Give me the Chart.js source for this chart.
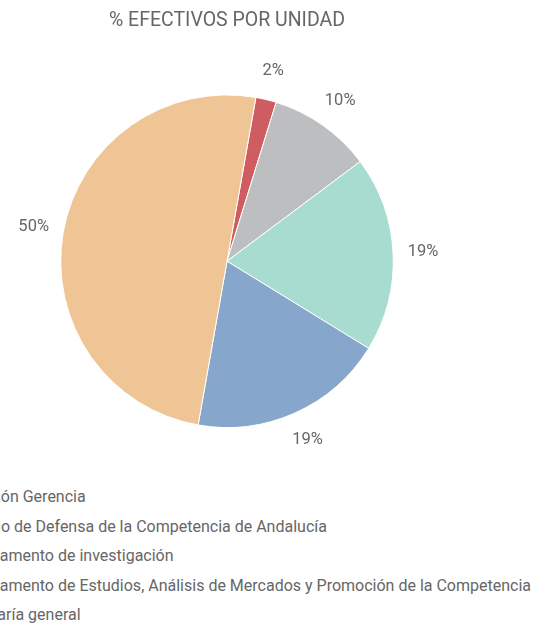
<!DOCTYPE html>
<html>
<head>
<meta charset="utf-8">
<script src="https://cdn.jsdelivr.net/npm/chart.js@4.4.1/dist/chart.umd.min.js"></script>
<style>
    html, body { margin: 0; padding: 0; background: #ffffff; overflow: hidden; }
    body { width: 534px; height: 623px; position: relative; font-family: Roboto, sans-serif; }
    #contenedor { position: absolute; left: 0; top: 0; width: 534px; height: 480px; }
    #leyenda { position: absolute; left: -71px; top: 482px; margin: 0; padding: 0; list-style: none; white-space: nowrap; }
    #leyenda li { height: 29.5px; line-height: 29.5px; font-size: 16px; color: #666666; }
    #leyenda span.caja { display: inline-block; width: 15px; height: 15px; margin-right: 8px; vertical-align: -2px; }
</style>
</head>
<body>
<div id="contenedor"><canvas id="graficoPastel"></canvas></div>
<ul id="leyenda"></ul>
<script>
const unidades = [
    'Dirección Gerencia',
    'Consejo de Defensa de la Competencia de Andalucía',
    'Departamento de investigación',
    'Departamento de Estudios, Análisis de Mercados y Promoción de la Competencia',
    'Secretaría general'
];
const porcentajes = [2, 10, 19, 19, 50];
const colores = ['#cf5c61', '#bdbec0', '#a8dcd1', '#86a7cb', '#f0c596'];

// etiquetas de porcentaje fuera del pastel
const etiquetasExternas = {
    id: 'etiquetasExternas',
    afterDatasetsDraw(chart) {
        const ctx = chart.ctx;
        const meta = chart.getDatasetMeta(0);
        ctx.save();
        ctx.font = '16.5px Roboto, sans-serif';
        ctx.fillStyle = '#666666';
        ctx.textAlign = 'center';
        ctx.textBaseline = 'middle';
        meta.data.forEach((arco, i) => {
            const { x, y, startAngle, endAngle, outerRadius } = arco.getProps(['x', 'y', 'startAngle', 'endAngle', 'outerRadius'], true);
            const medio = (startAngle + endAngle) / 2;
            const r = outerRadius + 30;
            ctx.fillText(`${porcentajes[i]}%`, x + Math.cos(medio) * r, y + Math.sin(medio) * r);
        });
        ctx.restore();
    }
};

const ctxPastel = document.getElementById('graficoPastel').getContext('2d');
const graficoPastel = new Chart(ctxPastel, {
    type: 'pie',
    data: {
        labels: unidades,
        datasets: [{
            data: porcentajes,
            backgroundColor: colores,
            borderColor: '#ffffff',
            borderWidth: 1
        }]
    },
    options: {
        responsive: true,
        maintainAspectRatio: false,
        animation: false,
        rotation: 10,
        layout: {
            padding: { left: 0, right: 80, top: 0, bottom: 52 }
        },
        plugins: {
            legend: { display: false },
            tooltip: { enabled: false },
            title: {
                display: true,
                text: '% EFECTIVOS POR UNIDAD',
                color: '#666666',
                font: { family: 'Roboto, sans-serif', size: 19.5, weight: 'normal' },
                padding: { top: 9.5, bottom: 61.5 }
            }
        }
    },
    plugins: [etiquetasExternas]
});

// leyenda en html
const leyenda = document.getElementById('leyenda');
unidades.forEach((nombre, i) => {
    const li = document.createElement('li');
    const caja = document.createElement('span');
    caja.className = 'caja';
    caja.style.background = colores[i];
    li.appendChild(caja);
    li.appendChild(document.createTextNode(nombre));
    leyenda.appendChild(li);
});
</script>
</body>
</html>
